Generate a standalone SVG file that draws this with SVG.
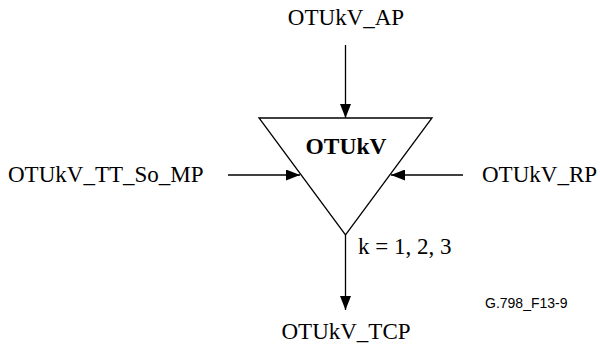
<svg xmlns="http://www.w3.org/2000/svg" width="600" height="347" viewBox="0 0 600 347">
<style>
.t{font-family:"Liberation Serif","Times New Roman",serif;font-size:23px;fill:#000}
.b{font-weight:bold;font-size:23.5px}
.s{font-family:"Liberation Sans",Arial,sans-serif;font-size:14px;fill:#000}
.l{stroke:#000;stroke-width:1.3;fill:none}
</style>
<defs>
<marker id="ah" viewBox="0 0 14 11" refX="14" refY="5.5" markerWidth="14" markerHeight="11" markerUnits="userSpaceOnUse" orient="auto">
<path d="M0,0 L14,5.5 L0,11 z" fill="#000"/>
</marker>
</defs>
<rect width="600" height="347" fill="#fff"/>
<g id="otukv">
<polygon class="l" points="259,118 432,118 345.5,235"/>
<text class="t b" x="346" y="154" text-anchor="middle">OTUkV</text>
</g>
<g id="ap"><text class="t" x="346" y="25" text-anchor="middle">OTUkV_AP</text></g>
<g id="mp"><text class="t" x="8" y="182">OTUkV_TT_So_MP</text></g>
<g id="rp"><text class="t" x="482" y="182">OTUkV_RP</text></g>
<g id="tcp"><text class="t" x="346" y="339" text-anchor="middle">OTUkV_TCP</text></g>
<g id="labels">
<text class="t" x="358" y="254">k = 1, 2, 3</text>
<text class="s" x="485" y="308">G.798_F13-9</text>
</g>
<g id="connectors">
<line class="l" x1="345.5" y1="45" x2="345.5" y2="118" marker-end="url(#ah)"/>
<line class="l" x1="228" y1="175" x2="300" y2="175" marker-end="url(#ah)"/>
<line class="l" x1="463" y1="175" x2="391" y2="175" marker-end="url(#ah)"/>
<line class="l" x1="345.5" y1="235" x2="345.5" y2="310" marker-end="url(#ah)"/>
</g>
</svg>
